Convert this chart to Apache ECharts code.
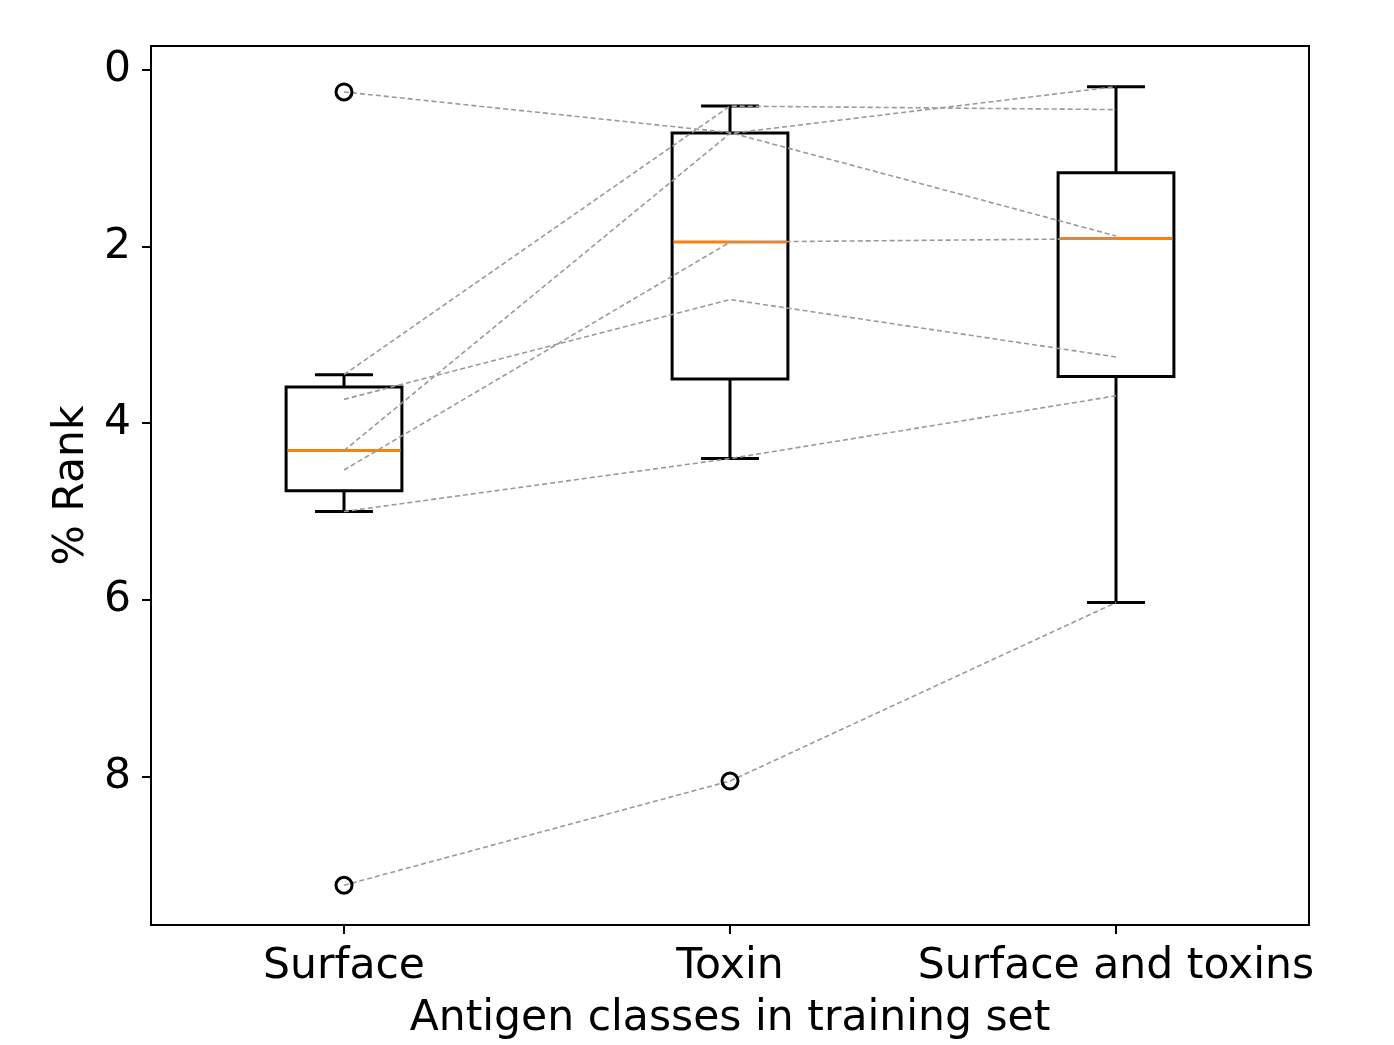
<!DOCTYPE html>
<html>
<head>
<meta charset="utf-8">
<script src="https://cdn.jsdelivr.net/npm/echarts@6/dist/echarts.min.js"></script>
<style>
html,body{margin:0;padding:0;background:#fff;}
#chart{width:1394px;height:1045px;}
</style>
</head>
<body>
<div id="chart"></div>
<script>
// ---- data (one value per antigen, same order in each array) ----
const categories = ['Surface', 'Toxin', 'Surface and toxins'];
const surface          = [0.25, 4.31, 3.45, 4.53, 3.73, 5.00, 9.23];
const toxin            = [0.71, 0.72, 0.41, 1.95, 2.60, 4.40, 8.05];
const surfaceAndToxins = [1.88, 0.19, 0.45, 1.91, 3.25, 3.69, 6.03];
const yTicks = [0, 2, 4, 6, 8];
const yAxisMin = -0.27;
const yAxisMax = 9.68;

const groups = [surface, toxin, surfaceAndToxins];

// matplotlib-style box statistics (linear quantiles, 1.5*IQR whiskers)
function quantile(sorted, p) {
  const pos = (sorted.length - 1) * p;
  const lo = Math.floor(pos), hi = Math.ceil(pos);
  return sorted[lo] + (sorted[hi] - sorted[lo]) * (pos - lo);
}
const boxData = [];
const outliers = [];
groups.forEach((g, i) => {
  const s = g.slice().sort((a, b) => a - b);
  const q1 = quantile(s, 0.25), med = quantile(s, 0.5), q3 = quantile(s, 0.75);
  const iqr = q3 - q1;
  const loF = q1 - 1.5 * iqr, hiF = q3 + 1.5 * iqr;
  const inside = s.filter(v => v >= loF && v <= hiF);
  const wLo = Math.min.apply(null, inside), wHi = Math.max.apply(null, inside);
  boxData.push([i, wLo, q1, med, q3, wHi]);
  s.forEach(v => { if (v < loF || v > hiF) outliers.push([i, v]); });
});

const pairLines = surface.map((v, k) => ({
  type: 'line',
  data: [surface[k], toxin[k], surfaceAndToxins[k]],
  symbol: 'none',
  silent: true,
  z: 4,
  lineStyle: { color: '#9a9a9a', width: 1.6, type: [5, 3] }
}));

const font = 'DejaVu Sans';
const fs = 42.5;
const chart = echarts.init(document.getElementById('chart'), null, { renderer: 'canvas' });
chart.setOption({
  animation: false,
  backgroundColor: '#fff',
  grid: { left: 151, right: 85, top: 46, bottom: 118, show: true, borderColor: '#000', borderWidth: 2, backgroundColor: 'transparent' },
  xAxis: {
    type: 'category',
    data: categories,
    boundaryGap: true,
    name: 'Antigen classes in training set',
    nameLocation: 'middle',
    nameGap: 72,
    nameTextStyle: { fontFamily: font, fontSize: fs, color: '#000' },
    axisLine: { show: true, onZero: false, lineStyle: { color: '#000', width: 2 } },
    axisTick: { show: true, alignWithLabel: true, length: 9, lineStyle: { color: '#000', width: 2 } },
    axisLabel: { fontFamily: font, fontSize: fs, color: '#000', margin: 20, interval: 0 },
    splitLine: { show: false }
  },
  yAxis: {
    type: 'value',
    inverse: true,
    min: yAxisMin,
    max: yAxisMax,
    name: '% Rank',
    nameLocation: 'middle',
    nameGap: 56,
    nameRotate: 90,
    nameTextStyle: { fontFamily: font, fontSize: fs, color: '#000' },
    axisLine: { show: true, onZero: false, lineStyle: { color: '#000', width: 2 } },
    axisTick: { show: true, length: 9, customValues: yTicks, lineStyle: { color: '#000', width: 2 } },
    axisLabel: { fontFamily: font, fontSize: fs, color: '#000', margin: 20, customValues: yTicks },
    splitLine: { show: false }
  },
  series: [
    {
      type: 'custom',
      data: boxData,
      z: 3,
      encode: { x: 0, y: [1, 2, 3, 4, 5] },
      renderItem: function (params, api) {
        const xi = api.value(0);
        const band = api.size([1, 0])[0];
        const half = band * 0.15, capHalf = band * 0.075;
        const c = k => api.coord([xi, api.value(k)]);
        const pLo = c(1), pQ1 = c(2), pMed = c(3), pQ3 = c(4), pHi = c(5);
        const cx = pMed[0];
        const black = { stroke: '#000', lineWidth: 3, fill: null };
        const top = Math.min(pQ1[1], pQ3[1]), bot = Math.max(pQ1[1], pQ3[1]);
        return {
          type: 'group',
          children: [
            { type: 'line', shape: { x1: cx, y1: pQ1[1], x2: cx, y2: pLo[1] }, style: black },
            { type: 'line', shape: { x1: cx, y1: pQ3[1], x2: cx, y2: pHi[1] }, style: black },
            { type: 'line', shape: { x1: cx - capHalf, y1: pLo[1], x2: cx + capHalf, y2: pLo[1] }, style: black },
            { type: 'line', shape: { x1: cx - capHalf, y1: pHi[1], x2: cx + capHalf, y2: pHi[1] }, style: black },
            { type: 'rect', shape: { x: cx - half, y: top, width: 2 * half, height: bot - top }, style: { stroke: '#000', lineWidth: 3, fill: 'rgba(0,0,0,0)' } },
            { type: 'line', shape: { x1: cx - half + 1.5, y1: pMed[1], x2: cx + half - 1.5, y2: pMed[1] }, style: { stroke: '#ff7f0e', lineWidth: 3 } }
          ]
        };
      }
    },
    {
      type: 'scatter',
      data: outliers,
      symbol: 'circle',
      symbolSize: 16,
      z: 5,
      itemStyle: { color: 'rgba(0,0,0,0)', borderColor: '#000', borderWidth: 3, opacity: 1 }
    }
  ].concat(pairLines)
});
</script>
</body>
</html>
